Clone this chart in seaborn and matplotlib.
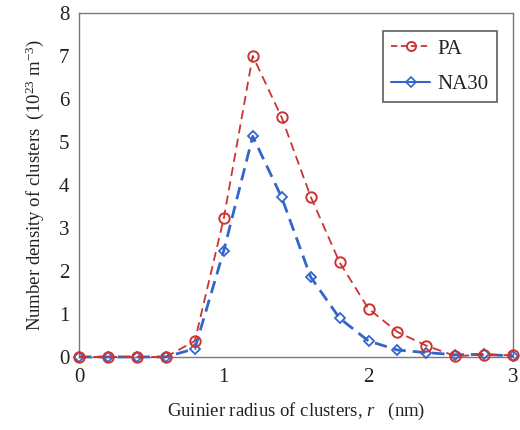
import numpy as np
import pandas as pd
import matplotlib
matplotlib.use("Agg")
import matplotlib.pyplot as plt
from matplotlib.lines import Line2D
from matplotlib.ticker import MultipleLocator, FixedLocator
import seaborn as sns

# Guinier radius (nm) and cluster number density (1e23 m^-3)
radius = [0.0, 0.2, 0.4, 0.6, 0.8, 1.0, 1.2, 1.4, 1.6, 1.8, 2.0, 2.2, 2.4, 2.6, 2.8, 3.0]
density_pa = [0.0, 0.0, 0.0, 0.0, 0.37, 3.22, 7.0, 5.57, 3.73, 2.2, 1.12, 0.58, 0.26, 0.02, 0.05, 0.04]
density_na30 = [0.0, 0.0, 0.0, 0.0, 0.19, 2.47, 5.13, 3.71, 1.86, 0.9, 0.37, 0.16, 0.1, 0.05, 0.06, 0.02]
series_names = ["PA", "NA30"]

sns.set_theme(style="white")
plt.rcParams["font.family"] = ["Liberation Serif", "DejaVu Serif"]
plt.rcParams["mathtext.fontset"] = "custom"
plt.rcParams["mathtext.rm"] = "Liberation Serif"
plt.rcParams["mathtext.it"] = "Liberation Serif:italic"

red = "#CC3333"
blue = "#3366CC"
txt = "#222222"

df = pd.DataFrame({
    "r": radius * 2,
    "n": density_pa + density_na30,
    "sample": [series_names[0]] * len(radius) + [series_names[1]] * len(radius),
})

fig = plt.figure(figsize=(5.2, 4.3), dpi=100)
ax = fig.add_axes([0.152, 0.17, 0.835, 0.80])

sub_pa = df[df["sample"] == "PA"]
sub_na = df[df["sample"] == "NA30"]

sns.lineplot(data=sub_na, x="r", y="n", ax=ax, color=blue, lw=2.0,
             dashes=False, linestyle=(0, (4.5, 2.5)), marker="D", markersize=5.5,
             markerfacecolor="none", markeredgecolor=blue, markeredgewidth=1.3,
             clip_on=False, zorder=3, legend=False)
sns.lineplot(data=sub_pa, x="r", y="n", ax=ax, color=red, lw=1.3,
             dashes=False, linestyle=(0, (5, 3)), marker="o", markersize=7.5,
             markerfacecolor="none", markeredgecolor=red, markeredgewidth=1.4,
             clip_on=False, zorder=4, legend=False)

ax.set_xlim(0, 3)
ax.set_ylim(0, 8)
ax.xaxis.set_major_locator(FixedLocator([0, 1, 2, 3]))
ax.xaxis.set_minor_locator(MultipleLocator(0.2))
ax.yaxis.set_major_locator(MultipleLocator(1))

for s in ax.spines.values():
    s.set_color("#7a7a7a")
    s.set_linewidth(1.0)

ax.tick_params(axis="both", which="both", direction="in", color="#7a7a7a",
               width=1.0, length=5, labelsize=15, labelcolor=txt)
ax.tick_params(axis="x", which="both", top=False, pad=8)
ax.tick_params(axis="y", which="both", right=False, pad=7)

ax.set_xlabel(r"Guinier radius of clusters, $\it{r}$   (nm)", fontsize=13.5,
              color=txt, labelpad=10)
ax.set_ylabel(r"Number density of clusters  (10$^{23}$ m$^{-3}$)", fontsize=13.5,
              color=txt, labelpad=9)

# Legend entries: dashed line for PA, solid line for NA30
handles = [
    Line2D([], [], color=red, lw=1.3, linestyle=(0, (3.5, 2)), marker="o",
           markersize=6.5, markerfacecolor="none", markeredgewidth=1.4),
    Line2D([], [], color=blue, lw=1.5, linestyle="-", marker="D",
           markersize=5, markerfacecolor="none", markeredgewidth=1.2),
]
leg = ax.legend(handles, series_names, loc="upper right",
                bbox_to_anchor=(0.963, 0.948), fontsize=15, frameon=True,
                fancybox=False, edgecolor="#333333", handlelength=1.9,
                handletextpad=0.35, borderpad=0.4, labelspacing=0.75,
                borderaxespad=0)
leg.get_frame().set_linewidth(1.2)
for t in leg.get_texts():
    t.set_color(txt)

fig.savefig("out.png", dpi=100, facecolor="white")
